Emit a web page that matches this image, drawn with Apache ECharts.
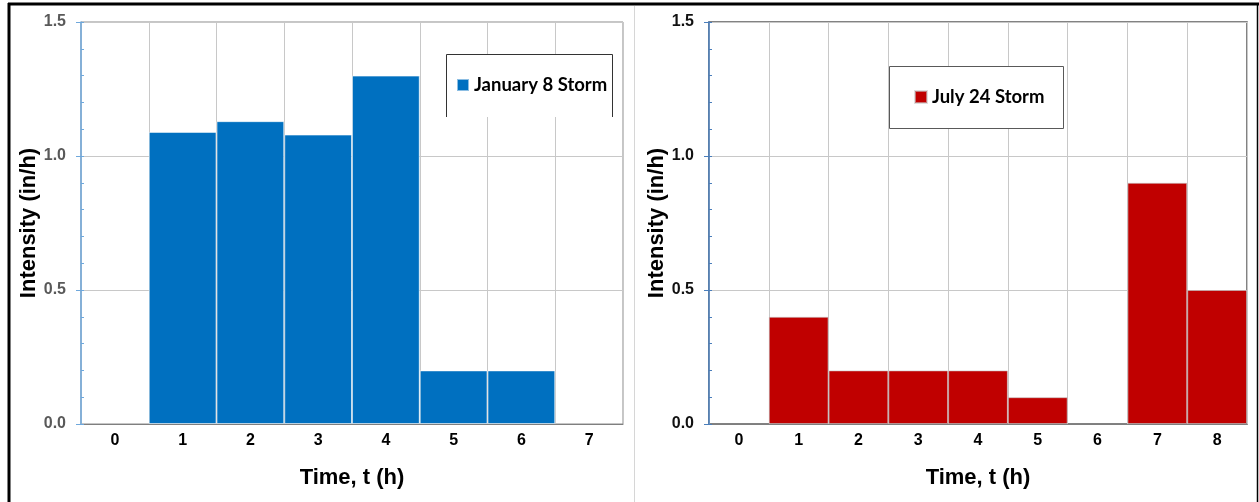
<!DOCTYPE html>
<html>
<head>
<meta charset="utf-8">
<script src="https://cdn.jsdelivr.net/npm/echarts@6/dist/echarts.min.js"></script>
<style>
  html, body { margin: 0; padding: 0; background: #fff; }
  #chart { width: 1259px; height: 502px; }
</style>
</head>
<body>
<div id="chart"></div>
<script>
// Hourly rainfall intensity for two storms
const janHours = ['0', '1', '2', '3', '4', '5', '6', '7'];
const janIntensity = [0, 1.09, 1.13, 1.08, 1.30, 0.20, 0.20, 0];
const julHours = ['0', '1', '2', '3', '4', '5', '6', '7', '8'];
const julIntensity = [0, 0.40, 0.20, 0.20, 0.20, 0.10, 0, 0.90, 0.50];
const janName = 'January 8 Storm';
const julName = 'July 24 Storm';
const yMin = 0, yMax = 1.5, yStep = 0.5, yMinorStep = 0.1;

const FONT = '"Liberation Sans", Arial, sans-serif';
const LEGEND_FONT = 'Lato, "Open Sans", sans-serif';

function barData(values) {
  // zero-height bars get no outline so the axis line stays clean
  return values.map(v => v === 0 ? { value: v, itemStyle: { borderWidth: 0 } } : v);
}

function xAxis(gridIndex, cats) {
  return {
    type: 'category', gridIndex, data: cats, boundaryGap: true,
    name: 'Time, t (h)', nameLocation: 'middle', nameGap: 43,
    nameTextStyle: { fontFamily: FONT, fontWeight: 'bold', fontSize: 22, color: '#000' },
    axisLine: { lineStyle: { color: '#7f7f7f', width: 1 } },
    axisTick: { show: false },
    axisLabel: { fontFamily: FONT, fontWeight: 'bold', fontSize: 16, color: '#000', margin: 9 },
    splitLine: { show: true, interval: 0, lineStyle: { color: '#c8c8c8', width: 1 } }
  };
}

function yAxis(gridIndex, axisColor, labelColor) {
  return {
    type: 'value', gridIndex, min: yMin, max: yMax, interval: yStep,
    name: 'Intensity (in/h)', nameLocation: 'middle', nameGap: 41,
    nameTextStyle: { fontFamily: FONT, fontWeight: 'bold', fontSize: 22, color: '#000' },
    axisLine: { show: true, lineStyle: { color: axisColor, width: 1.5 } },
    axisTick: { show: true, length: 5, lineStyle: { color: axisColor } },
    axisLabel: {
      fontFamily: FONT, fontWeight: 'bold', fontSize: 16, color: labelColor, margin: 15,
      formatter: v => v.toFixed(1)
    },
    splitLine: { show: true, lineStyle: { color: '#c8c8c8', width: 1 } }
  };
}

// inner minor ticks every 0.1
function minorAxis(gridIndex, axisColor) {
  return {
    type: 'value', gridIndex, min: yMin, max: yMax, interval: yMinorStep,
    position: 'left',
    axisLine: { show: false },
    axisTick: { show: true, inside: true, length: 3, lineStyle: { color: axisColor } },
    axisLabel: { show: false },
    splitLine: { show: false }
  };
}

function legend(name, left, top) {
  return {
    data: [name], left, top, padding: 0, orient: 'horizontal',
    icon: 'rect', itemWidth: 12, itemHeight: 12, selectedMode: false, z: 10,
    textStyle: { fontFamily: LEGEND_FONT, fontWeight: 'bold', fontSize: 18.5, color: '#000', lineHeight: 22 }
  };
}

const chart = echarts.init(document.getElementById('chart'), null, { renderer: 'canvas' });

chart.setOption({
  backgroundColor: '#fff',
  animation: false,
  grid: [
    { left: 81, top: 22, width: 542, height: 402, show: true, borderColor: '#8c8c8c', borderWidth: 1 },
    { left: 709, top: 22, width: 538, height: 402, show: true, borderColor: '#5a5a5a', borderWidth: 1.5 }
  ],
  xAxis: [xAxis(0, janHours), xAxis(1, julHours)],
  yAxis: [
    yAxis(0, '#6fa8dc', '#595959'),
    yAxis(1, '#4a7ebb', '#111'),
    minorAxis(0, '#6fa8dc'),
    minorAxis(1, '#4a7ebb')
  ],
  legend: [legend(janName, 456, 74), legend(julName, 914, 86)],
  series: [
    {
      name: janName, type: 'bar', xAxisIndex: 0, yAxisIndex: 0,
      data: barData(janIntensity), barCategoryGap: '0%',
      itemStyle: { color: '#0070c0', borderColor: 'rgba(255,255,255,0.55)', borderWidth: 1 }
    },
    {
      name: julName, type: 'bar', xAxisIndex: 1, yAxisIndex: 1,
      data: barData(julIntensity), barCategoryGap: '0%',
      itemStyle: { color: '#c00000', borderColor: 'rgba(200,200,200,0.6)', borderWidth: 1 }
    }
  ],
  graphic: [
    // legend boxes
    { type: 'rect', z: 8, shape: { x: 446, y: 54.5, width: 166, height: 62.5 }, style: { fill: '#fff' } },
    { type: 'polyline', z: 9, shape: { points: [[446.5, 117], [446.5, 54.5], [612.5, 54.5], [612.5, 117]] },
      style: { stroke: '#333', lineWidth: 1, fill: null } },
    { type: 'rect', z: 8, shape: { x: 889.5, y: 66.5, width: 174, height: 62 },
      style: { fill: '#fff', stroke: '#595959', lineWidth: 1 } },
    // panel divider and outer frame
    { type: 'line', z: 1, shape: { x1: 634.5, y1: 6, x2: 634.5, y2: 502 }, style: { stroke: '#d6d6d6', lineWidth: 1 } },
    { type: 'line', z: 20, shape: { x1: 8, y1: 4, x2: 1259, y2: 4 }, style: { stroke: '#000', lineWidth: 3 } },
    { type: 'line', z: 20, shape: { x1: 9, y1: 3, x2: 9, y2: 502 }, style: { stroke: '#000', lineWidth: 3 } },
    { type: 'line', z: 20, shape: { x1: 1257.5, y1: 3, x2: 1257.5, y2: 502 }, style: { stroke: '#000', lineWidth: 1.5 } }
  ]
});
</script>
</body>
</html>
